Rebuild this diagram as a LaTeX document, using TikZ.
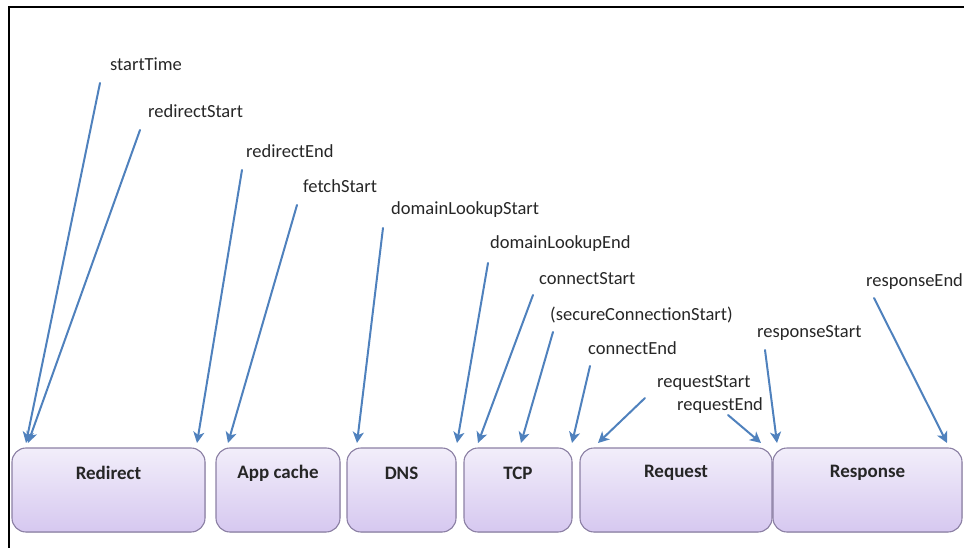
\documentclass[tikz,border=0pt]{standalone}
\usepackage{fontspec}
\setmainfont{Carlito}
\usetikzlibrary{arrows.meta}
\definecolor{arrowblue}{RGB}{79,129,189}
\definecolor{phasetop}{RGB}{242,238,250}
\definecolor{phasebot}{RGB}{214,200,240}
\definecolor{phaseedge}{RGB}{140,128,165}
\tikzset{
  phase/.style={draw=phaseedge, line width=1.1pt, rounded corners=14pt,
    top color=phasetop, bottom color=phasebot, inner sep=0pt},
  phaselabel/.style={font=\fontsize{19}{22}\selectfont\bfseries, text=black!85},
  event/.style={font=\fontsize{18.5}{22}\selectfont, text=black!85, anchor=base west, inner sep=0pt},
  marker/.style={draw=arrowblue, line width=2pt, line cap=round,
    -{Stealth[length=11pt,width=11pt,inset=3pt]}},
}
\begin{document}
\begin{tikzpicture}[x=1pt,y=-1pt]
\useasboundingbox (0,0) rectangle (964,548);
\begin{scope}
\clip (0,0) rectangle (964,548);

% outer frame (left and top edges)
\draw[line width=2.2pt] (9,548) -- (9,7) -- (964,7);

% phases of the navigation timeline
\foreach \nm/\xa/\xb/\lbl in {redirect/12/205/Redirect, appcache/216/340/App cache,
    dns/347/456/DNS, tcp/464/572/TCP, request/580/772/Request, response/773/962/Response}{
  \filldraw[phase] (\xa,448) rectangle (\xb,532);
  \node[phaselabel] (\nm) at ({(\xa+\xb)/2},473) {\lbl};
}

% event labels
\node[event] (t1)  at (110,71)  {startTime};
\node[event] (t2)  at (148,118) {redirectStart};
\node[event] (t3)  at (246,158) {redirectEnd};
\node[event] (t4)  at (303,193) {fetchStart};
\node[event] (t5)  at (391,215) {domainLookupStart};
\node[event] (t6)  at (490,249) {domainLookupEnd};
\node[event] (t7)  at (539,284) {connectStart};
\node[event] (t8)  at (550,320) {(secureConnectionStart)};
\node[event] (t9)  at (588,354) {connectEnd};
\node[event] (t10) at (657,387) {requestStart};
\node[event] (t11) at (677,410) {requestEnd};
\node[event] (t12) at (757,337) {responseStart};
\node[event] (t13) at (866,286) {responseEnd};

% arrow start and end points
\coordinate (s1)  at (100,83);   \coordinate (e1)  at (26,443);
\coordinate (s2)  at (140,130);  \coordinate (e2)  at (28,443);
\coordinate (s3)  at (242,170);  \coordinate (e3)  at (197,443);
\coordinate (s4)  at (297,205);  \coordinate (e4)  at (228,443);
\coordinate (s5)  at (383,228);  \coordinate (e5)  at (357,443);
\coordinate (s6)  at (488,263);  \coordinate (e6)  at (457,443);
\coordinate (s7)  at (533,295);  \coordinate (e7)  at (478,443);
\coordinate (s8)  at (553,332);  \coordinate (e8)  at (521,443);
\coordinate (s9)  at (590,366);  \coordinate (e9)  at (572,443);
\coordinate (s10) at (645,398);  \coordinate (e10) at (598,443);
\coordinate (s11) at (728,415);  \coordinate (e11) at (761,443);
\coordinate (s12) at (765,350);  \coordinate (e12) at (777,443);
\coordinate (s13) at (874,298);  \coordinate (e13) at (947,443);

\foreach \i in {1,...,13}{
  \draw[marker] (s\i) -- (e\i);
}
\end{scope}
\end{tikzpicture}
\end{document}
